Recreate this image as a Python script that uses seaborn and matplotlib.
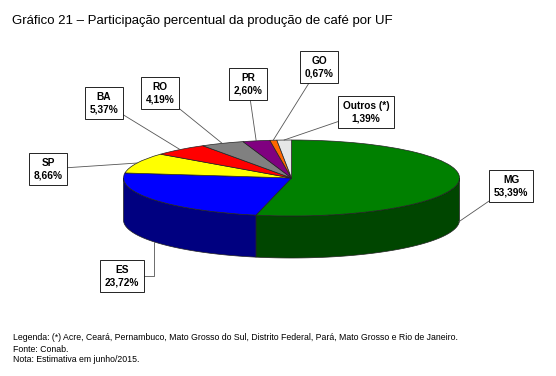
import numpy as np
import seaborn as sns
import matplotlib.pyplot as plt

# data
states = ['MG', 'ES', 'SP', 'BA', 'RO', 'PR', 'GO', 'Outros (*)']
shares = [53.39, 23.72, 8.66, 5.37, 4.19, 2.60, 0.67, 1.39]
share_labels = ['53,39%', '23,72%', '8,66%', '5,37%', '4,19%', '2,60%', '0,67%', '1,39%']
top_colors = ['#008000', '#0000ff', '#ffff00', '#ff0000', '#808080', '#800080', '#ff6600', '#e6e6e6']
side_colors = ['#004600', '#000080', '#b3b300', '#b30000', '#5a5a5a', '#5a005a', '#b34700', '#a0a0a0']

# label box centres (figure pixels) and where the leader touches the slice (0 = top rim, 1 = bottom rim)
box_pos = [(511, 186), (122, 276), (48, 169), (104, 103), (160, 93), (248, 84), (319, 67), (366, 112)]
rim_frac = [0.95, 1.0, 0, 0, 0, 0, 0, 0]

W, H = 556, 376
cx, cy, rx, ry = 291.5, 178, 168, 38
depth = 42 / ry

sns.set_theme(style='white')
plt.rcParams['font.family'] = ['Liberation Sans', 'DejaVu Sans']

fig = plt.figure(figsize=(W / 100, H / 100), dpi=100)
fig.patch.set_facecolor('white')

# pie axes: one x unit = rx pixels, one y unit = ry pixels
xl, yl_top, yl_bot = 1.05, 1.05, 2.3
ax = fig.add_axes([(cx - xl * rx) / W, 1 - (cy + yl_bot * ry) / H,
                   2 * xl * rx / W, (yl_top + yl_bot) * ry / H])

ax.pie(shares, colors=top_colors, startangle=90, counterclock=False, radius=1,
       wedgeprops=dict(edgecolor='#222222', linewidth=0.5))
ax.set_aspect('auto')
ax.set_xlim(-xl, xl)
ax.set_ylim(-yl_bot, yl_top)
ax.axis('off')

# side wall (only the front half is visible)
edges = 90 - 3.6 * np.concatenate([[0], np.cumsum(shares)])
for i in range(len(shares)):
    a1, a2 = edges[i], edges[i + 1]          # a1 > a2 (clockwise)
    lo, hi = max(a2, -180), min(a1, 0)
    if hi <= lo:
        continue
    t = np.radians(np.linspace(hi, lo, 80))
    xs = np.concatenate([np.cos(t), np.cos(t[::-1])])
    ys = np.concatenate([np.sin(t), np.sin(t[::-1]) - depth])
    ax.fill(xs, ys, color=side_colors[i], ec='#222222', lw=0.5, zorder=0.5)

# overlay in pixel coordinates for texts
ov = fig.add_axes([0, 0, 1, 1])
ov.set_xlim(0, W)
ov.set_ylim(H, 0)
ov.axis('off')

ov.text(12, 21, 'Gráfico 21 – Participação percentual da produção de café por UF',
        fontsize=9.57, va='center', ha='left', color='black')

mids = (edges[:-1] + edges[1:]) / 2
for i in range(len(shares)):
    t = np.radians(mids[i])
    px, py = np.cos(t), np.sin(t) - rim_frac[i] * depth
    conn = 'angle,angleA=0,angleB=90,rad=0' if states[i] == 'ES' else 'arc3'
    ov.annotate(f'{states[i]}\n{share_labels[i]}', xy=(px, py), xycoords=ax.transData,
                xytext=box_pos[i], textcoords='data', ha='center', va='center',
                fontsize=7.3, fontweight='bold', color='black', linespacing=1.35,
                bbox=dict(boxstyle='square,pad=0.45', fc='white', ec='black', lw=0.6),
                arrowprops=dict(arrowstyle='-', color='#555555', lw=0.6,
                                shrinkA=0, shrinkB=0, connectionstyle=conn))

notes = ['Legenda: (*) Acre, Ceará, Pernambuco, Mato Grosso do Sul, Distrito Federal, Pará, Mato Grosso e Rio de Janeiro.',
         'Fonte: Conab.',
         'Nota: Estimativa em junho/2015.']
for k, line in enumerate(notes):
    ov.text(13, 338 + 11 * k, line, fontsize=6.35, va='center', ha='left', color='black')

plt.savefig('out.png', dpi=100)
